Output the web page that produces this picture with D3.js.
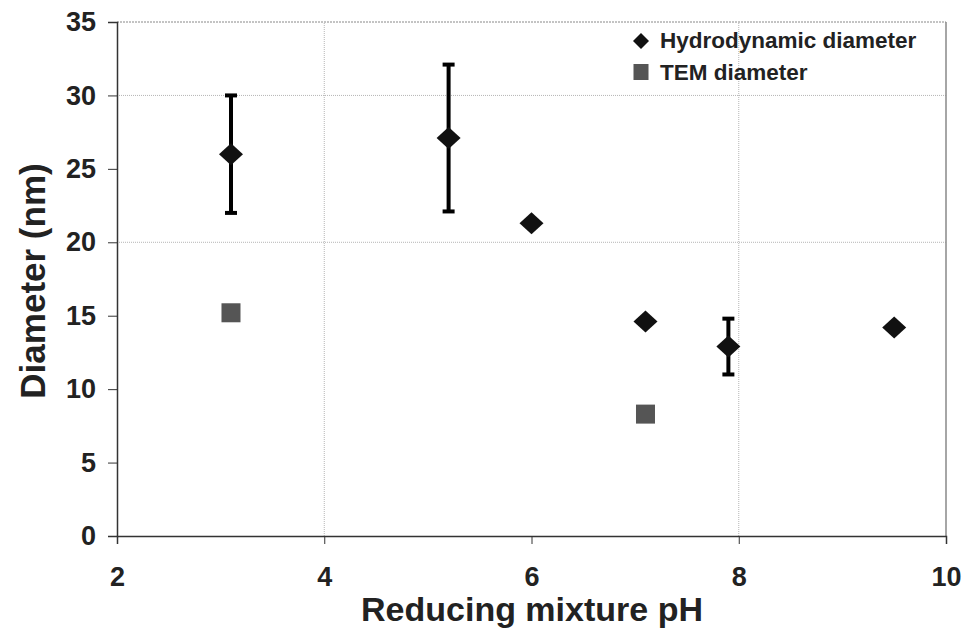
<!DOCTYPE html>
<html>
<head>
<meta charset="utf-8">
<script src="https://cdn.jsdelivr.net/npm/d3@7"></script>
<style>
  body { margin: 0; background: #fff; }
  text { font-family: "Liberation Sans", Arial, sans-serif; font-weight: bold; fill: #222; }
</style>
</head>
<body>
<div id="chart"></div>
<script>
// pH values and measured diameters
const hydroPH = [3.1, 5.2, 6.0, 7.1, 7.9, 9.5];
const hydroD = [26.0, 27.1, 21.3, 14.6, 12.9, 14.2];
const hydroLow = [22.0, 22.1, null, null, 11.0, null];
const hydroHigh = [30.0, 32.1, null, null, 14.8, null];
const temPH = [3.1, 7.1];
const temD = [15.2, 8.3];
const xTicks = [2, 4, 6, 8, 10];
const yTicks = [0, 5, 10, 15, 20, 25, 30, 35];
const xGrid = [4, 8];
const yGrid = [20, 30];
const seriesNames = ["Hydrodynamic diameter", "TEM diameter"];

const width = 969, height = 634;
const margin = { left: 117, right: 23, top: 22, bottom: 98 };

const svg = d3.select("#chart").append("svg")
    .attr("width", width)
    .attr("height", height);

const x = d3.scaleLinear().domain([2, 10]).range([margin.left, width - margin.right]);
const y = d3.scaleLinear().domain([0, 35]).range([height - margin.bottom, margin.top]);

// Gridlines
svg.selectAll(".hgrid").data(yGrid).enter().append("line")
    .attr("x1", x(2)).attr("x2", x(10))
    .attr("y1", d => y(d)).attr("y2", d => y(d))
    .attr("stroke", "#b5b5b5").attr("stroke-width", 1).attr("stroke-dasharray", "1,1");
svg.selectAll(".vgrid").data(xGrid).enter().append("line")
    .attr("x1", d => x(d)).attr("x2", d => x(d))
    .attr("y1", y(0)).attr("y2", y(35))
    .attr("stroke", "#b5b5b5").attr("stroke-width", 1).attr("stroke-dasharray", "1,1");

// Top and right borders
svg.append("line").attr("x1", x(2)).attr("x2", x(10)).attr("y1", y(35)).attr("y2", y(35))
    .attr("stroke", "#888").attr("stroke-dasharray", "2,1");
svg.append("line").attr("x1", x(10)).attr("x2", x(10)).attr("y1", y(35)).attr("y2", y(0))
    .attr("stroke", "#888").attr("stroke-width", 1.5);

// Axes
const xAxis = svg.append("g")
    .attr("transform", `translate(0,${y(0)})`)
    .call(d3.axisBottom(x).tickValues(xTicks).tickSize(8).tickPadding(23));
const yAxis = svg.append("g")
    .attr("transform", `translate(${x(2)},0)`)
    .call(d3.axisLeft(y).tickValues(yTicks).tickSize(9).tickPadding(12));

[xAxis, yAxis].forEach(a => {
    a.select(".domain").attr("stroke", "#333").attr("stroke-width", 1.5);
    a.selectAll(".tick line").attr("stroke", "#333").attr("stroke-width", 1);
    a.selectAll(".tick text").style("font-size", "27px").style("font-family", "Liberation Sans, Arial, sans-serif")
        .style("font-weight", "bold").attr("fill", "#222");
});

// Axis titles
svg.append("text")
    .attr("x", 532).attr("y", 621)
    .attr("text-anchor", "middle")
    .style("font-size", "34px")
    .text("Reducing mixture pH");
svg.append("text")
    .attr("transform", `translate(45,${(y(0) + y(35)) / 2 + 2}) rotate(-90)`)
    .attr("text-anchor", "middle")
    .style("font-size", "35px")
    .text("Diameter (nm)");

// Error bars
const errIdx = hydroPH.map((d, i) => i).filter(i => hydroLow[i] !== null);
const err = svg.append("g");
errIdx.forEach(i => {
    err.append("line")
        .attr("x1", x(hydroPH[i])).attr("x2", x(hydroPH[i]))
        .attr("y1", y(hydroLow[i])).attr("y2", y(hydroHigh[i]))
        .attr("stroke", "#000").attr("stroke-width", 4);
    [hydroLow[i], hydroHigh[i]].forEach(v => {
        err.append("line")
            .attr("x1", x(hydroPH[i]) - 6).attr("x2", x(hydroPH[i]) + 6)
            .attr("y1", y(v)).attr("y2", y(v))
            .attr("stroke", "#000").attr("stroke-width", 4);
    });
});

// Hydrodynamic diameter points (diamonds)
const diamond = (w, h) => `M0,${-h}L${w},0L0,${h}L${-w},0Z`;
svg.selectAll(".hydro").data(hydroPH).enter().append("path")
    .attr("d", diamond(12, 11))
    .attr("transform", (d, i) => `translate(${x(d)},${y(hydroD[i])})`)
    .attr("fill", "#111");

// TEM diameter points (squares)
svg.selectAll(".tem").data(temPH).enter().append("rect")
    .attr("x", d => x(d) - 9.5)
    .attr("y", (d, i) => y(temD[i]) - 9.5)
    .attr("width", 19).attr("height", 19)
    .attr("fill", "#555");

// Legend
const legend = svg.append("g").attr("transform", "translate(641,0)");
legend.append("path").attr("d", diamond(8, 8)).attr("transform", "translate(0,41)").attr("fill", "#111");
legend.append("rect").attr("x", -7.5).attr("y", 64).attr("width", 15).attr("height", 16).attr("fill", "#555");
legend.selectAll(".ltxt").data(seriesNames).enter().append("text")
    .attr("x", 19).attr("y", (d, i) => 48 + i * 32)
    .style("font-size", "22.5px")
    .text(d => d);
</script>
</body>
</html>
